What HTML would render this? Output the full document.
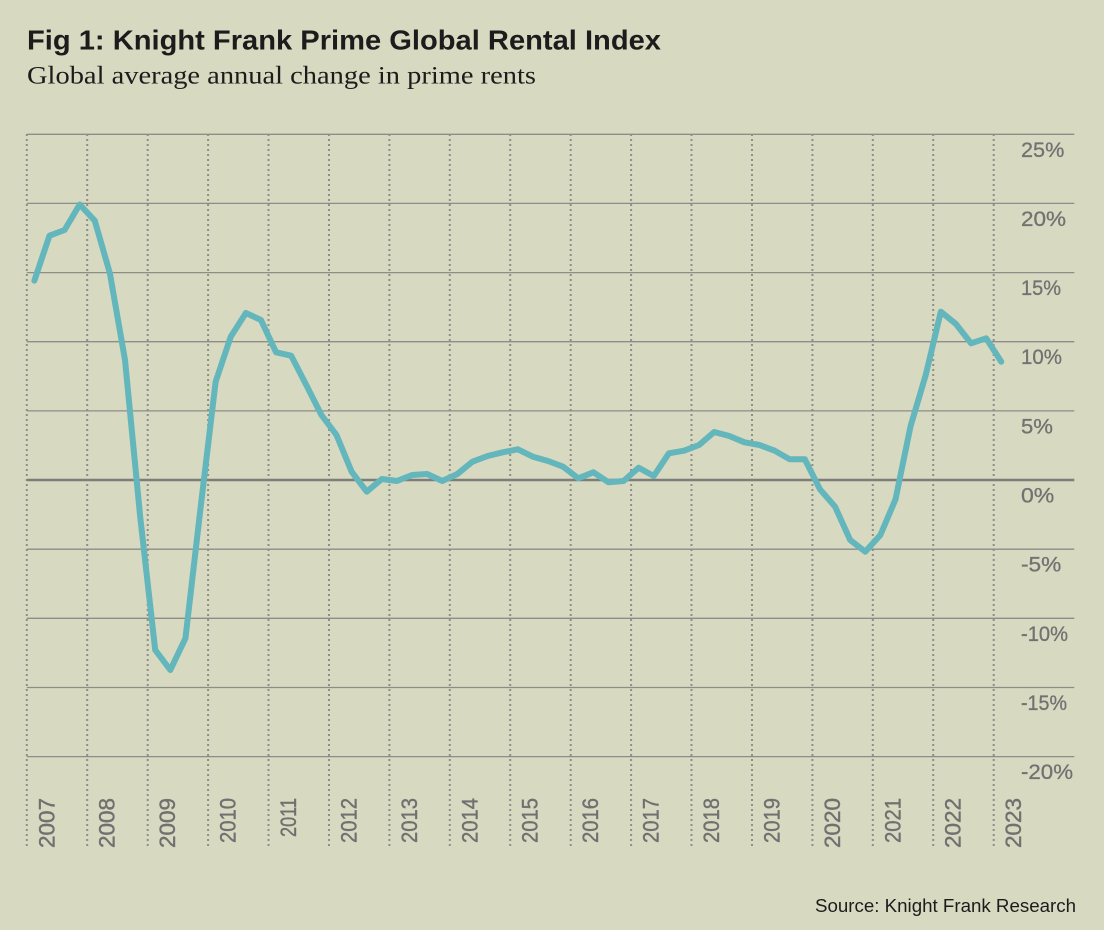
<!DOCTYPE html>
<html>
<head>
<meta charset="utf-8">
<style>
  html, body { margin:0; padding:0; background:#d7d9c0; }
  body { width:1104px; height:930px; overflow:hidden; }
  svg { display:block; }
</style>
</head>
<body>
<svg width="1104" height="930" viewBox="0 0 1104 930" xmlns="http://www.w3.org/2000/svg">
  <rect x="0" y="0" width="1104" height="930" fill="#d7d9c0"/>

  <!-- Title -->
  <text x="27" y="49.3" font-family="Liberation Sans, sans-serif" font-weight="bold" font-size="28" fill="#1c1c1c" textLength="634" lengthAdjust="spacingAndGlyphs">Fig 1: Knight Frank Prime Global Rental Index</text>
  <text x="27" y="83.3" font-family="Liberation Serif, serif" font-size="25.5" fill="#1c1c1c" textLength="509" lengthAdjust="spacingAndGlyphs">Global average annual change in prime rents</text>

  <!-- Horizontal gridlines -->
  <g stroke="#8d8d89" stroke-width="1.3">
    <line x1="26.8" y1="134.3" x2="1074.3" y2="134.3"/>
    <line x1="26.8" y1="203.4" x2="1074.3" y2="203.4"/>
    <line x1="26.8" y1="272.6" x2="1074.3" y2="272.6"/>
    <line x1="26.8" y1="341.7" x2="1074.3" y2="341.7"/>
    <line x1="26.8" y1="410.9" x2="1074.3" y2="410.9"/>
    <line x1="26.8" y1="549.2" x2="1074.3" y2="549.2"/>
    <line x1="26.8" y1="618.3" x2="1074.3" y2="618.3"/>
    <line x1="26.8" y1="687.5" x2="1074.3" y2="687.5"/>
    <line x1="26.8" y1="756.6" x2="1074.3" y2="756.6"/>
  </g>

  <!-- Vertical dotted lines -->
  <g stroke="#8e8e8a" stroke-width="2" stroke-dasharray="2 3">
    <line x1="26.8" y1="134" x2="26.8" y2="848"/>
    <line x1="87.2" y1="134" x2="87.2" y2="848"/>
    <line x1="147.7" y1="134" x2="147.7" y2="848"/>
    <line x1="208.1" y1="134" x2="208.1" y2="848"/>
    <line x1="268.5" y1="134" x2="268.5" y2="848"/>
    <line x1="329.0" y1="134" x2="329.0" y2="848"/>
    <line x1="389.4" y1="134" x2="389.4" y2="848"/>
    <line x1="449.8" y1="134" x2="449.8" y2="848"/>
    <line x1="510.2" y1="134" x2="510.2" y2="848"/>
    <line x1="570.7" y1="134" x2="570.7" y2="848"/>
    <line x1="631.1" y1="134" x2="631.1" y2="848"/>
    <line x1="691.5" y1="134" x2="691.5" y2="848"/>
    <line x1="752.0" y1="134" x2="752.0" y2="848"/>
    <line x1="812.4" y1="134" x2="812.4" y2="848"/>
    <line x1="872.8" y1="134" x2="872.8" y2="848"/>
    <line x1="933.2" y1="134" x2="933.2" y2="848"/>
    <line x1="993.7" y1="134" x2="993.7" y2="848"/>
  </g>

  <!-- Zero line -->
  <line x1="26.8" y1="480" x2="1074.3" y2="480" stroke="#7d7d7b" stroke-width="2.6"/>

  <!-- Data line -->
  <polyline fill="none" stroke="#63b6bb" stroke-width="6" stroke-linejoin="round" stroke-linecap="round"
    points="34.35,280.7 49.46,235.7 64.57,230 79.67,204.5 94.78,220.7 109.89,273.3 125.0,360 140.11,516 155.21,650 170.32,670 185.43,638.3 200.54,508 215.65,381.7 230.75,336.7 245.86,313 260.97,320 276.08,352.3 291.19,355.7 306.29,385 321.40,415 336.51,435 351.62,471.7 366.73,491.7 381.83,479 396.94,481 412.05,475 427.16,474 442.27,481 457.37,474 472.48,461.7 487.59,456 502.70,452.3 517.81,449.3 532.91,456.7 548.02,461 563.13,466.7 578.24,478.3 593.35,472.3 608.45,482.3 623.56,481 638.67,467.7 653.78,476 668.89,453.3 683.99,450.7 699.10,445 714.21,432 729.32,436 744.43,442.3 759.53,445 774.64,450.7 789.75,459.3 804.86,459.3 819.97,489.3 835.07,506.7 850.18,540 865.29,551.7 880.40,535 895.51,499.3 910.61,426 925.72,375 940.83,311.7 955.94,324 971.05,343.3 986.15,338.3 1001.26,361.7"/>

  <!-- Right axis labels -->
  <g font-family="Liberation Sans, sans-serif" font-size="21" fill="#727272" stroke="#727272" stroke-width="0.3" lengthAdjust="spacingAndGlyphs">
    <text x="1021" y="156.8" textLength="43.3" lengthAdjust="spacingAndGlyphs">25%</text>
    <text x="1021" y="225.9" textLength="45" lengthAdjust="spacingAndGlyphs">20%</text>
    <text x="1021" y="295.1" textLength="40" lengthAdjust="spacingAndGlyphs">15%</text>
    <text x="1021" y="364.2" textLength="41" lengthAdjust="spacingAndGlyphs">10%</text>
    <text x="1021" y="433.4" textLength="32" lengthAdjust="spacingAndGlyphs">5%</text>
    <text x="1021" y="502.5" textLength="33.3" lengthAdjust="spacingAndGlyphs">0%</text>
    <text x="1021" y="571.7" textLength="40.3" lengthAdjust="spacingAndGlyphs">-5%</text>
    <text x="1021" y="640.8" textLength="47" lengthAdjust="spacingAndGlyphs">-10%</text>
    <text x="1021" y="710.0" textLength="46" lengthAdjust="spacingAndGlyphs">-15%</text>
    <text x="1021" y="779.1" textLength="52" lengthAdjust="spacingAndGlyphs">-20%</text>
  </g>

  <!-- Year labels -->
  <g font-family="Liberation Sans, sans-serif" font-size="22" fill="#707070" stroke="#707070" stroke-width="0.4" text-anchor="end">
    <text transform="translate(54.3,798) rotate(-90)" textLength="50" lengthAdjust="spacingAndGlyphs">2007</text>
    <text transform="translate(114.7,798) rotate(-90)" textLength="50" lengthAdjust="spacingAndGlyphs">2008</text>
    <text transform="translate(175.2,798) rotate(-90)" textLength="50" lengthAdjust="spacingAndGlyphs">2009</text>
    <text transform="translate(235.6,798) rotate(-90)" textLength="45" lengthAdjust="spacingAndGlyphs">2010</text>
    <text transform="translate(296.0,798) rotate(-90)" textLength="39" lengthAdjust="spacingAndGlyphs">2011</text>
    <text transform="translate(356.5,798) rotate(-90)" textLength="45" lengthAdjust="spacingAndGlyphs">2012</text>
    <text transform="translate(416.9,798) rotate(-90)" textLength="45" lengthAdjust="spacingAndGlyphs">2013</text>
    <text transform="translate(477.3,798) rotate(-90)" textLength="45" lengthAdjust="spacingAndGlyphs">2014</text>
    <text transform="translate(537.7,798) rotate(-90)" textLength="45" lengthAdjust="spacingAndGlyphs">2015</text>
    <text transform="translate(598.2,798) rotate(-90)" textLength="45" lengthAdjust="spacingAndGlyphs">2016</text>
    <text transform="translate(658.6,798) rotate(-90)" textLength="45" lengthAdjust="spacingAndGlyphs">2017</text>
    <text transform="translate(719.0,798) rotate(-90)" textLength="45" lengthAdjust="spacingAndGlyphs">2018</text>
    <text transform="translate(779.5,798) rotate(-90)" textLength="45" lengthAdjust="spacingAndGlyphs">2019</text>
    <text transform="translate(839.9,798) rotate(-90)" textLength="50" lengthAdjust="spacingAndGlyphs">2020</text>
    <text transform="translate(900.3,798) rotate(-90)" textLength="45" lengthAdjust="spacingAndGlyphs">2021</text>
    <text transform="translate(960.7,798) rotate(-90)" textLength="50" lengthAdjust="spacingAndGlyphs">2022</text>
    <text transform="translate(1021.2,798) rotate(-90)" textLength="50" lengthAdjust="spacingAndGlyphs">2023</text>
  </g>

  <!-- Source -->
  <text x="1076" y="912" text-anchor="end" font-family="Liberation Sans, sans-serif" font-size="18" fill="#1c1c1c" textLength="261" lengthAdjust="spacingAndGlyphs">Source: Knight Frank Research</text>
</svg>
</body>
</html>
